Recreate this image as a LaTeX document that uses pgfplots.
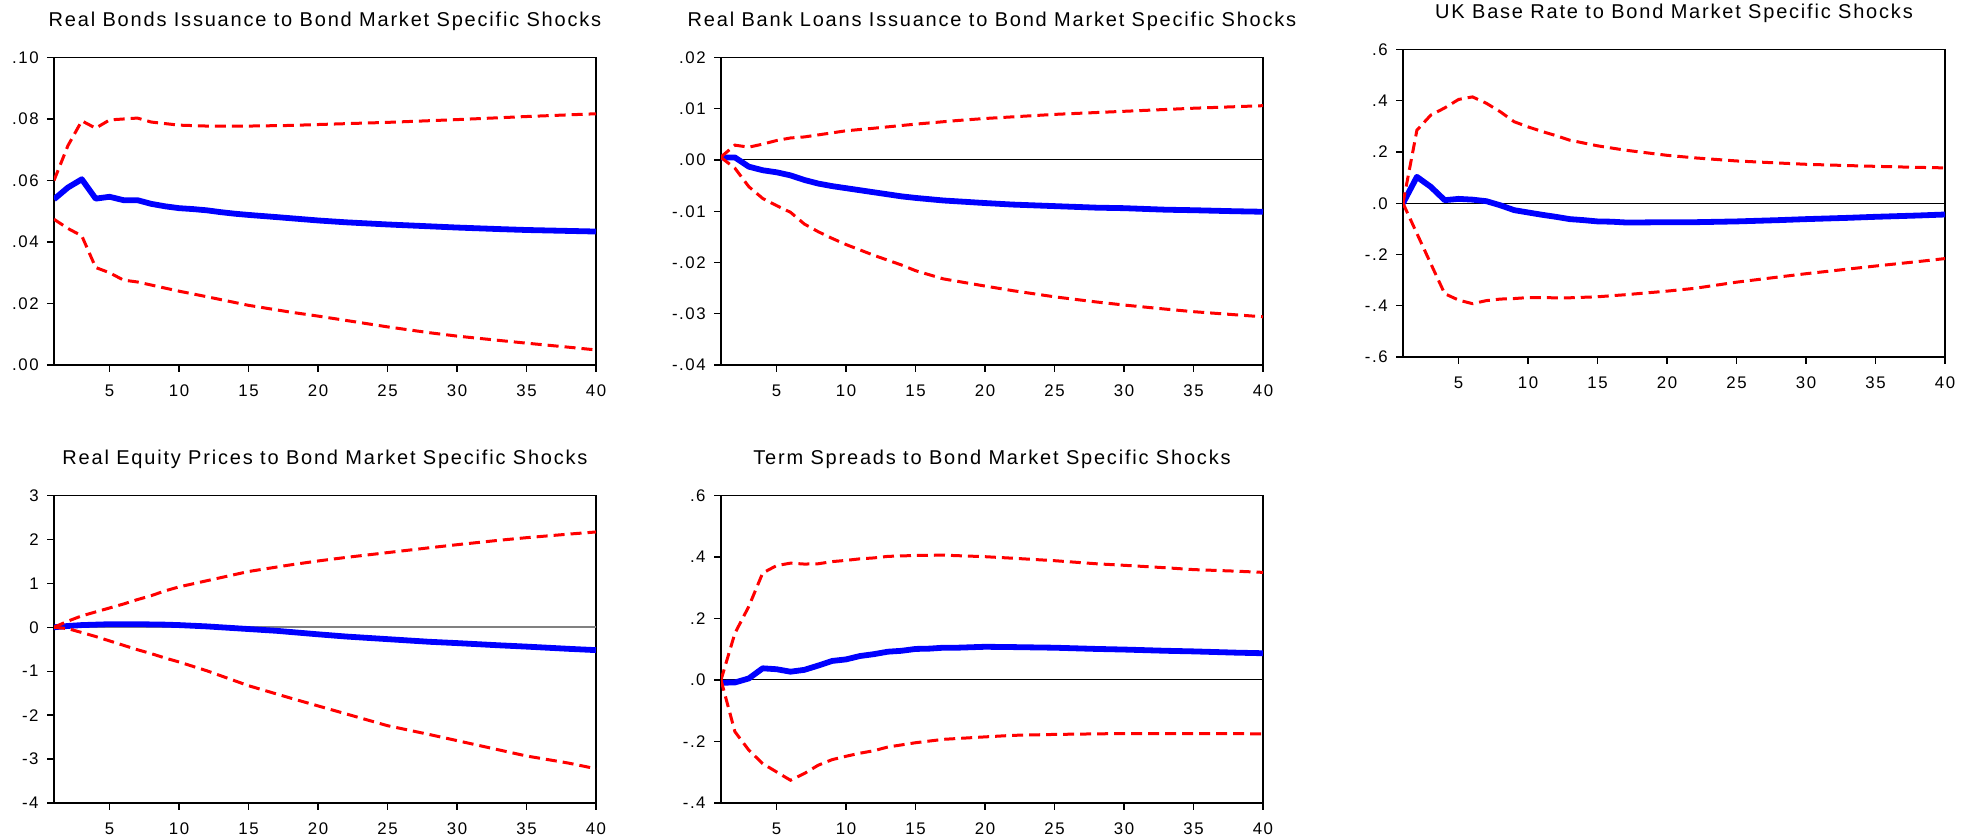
\documentclass[border=0pt]{standalone}
\usepackage{fontspec}
\setmainfont[LetterSpace=9]{Liberation Sans}
\usepackage{pgfplots}
\pgfplotsset{compat=1.18}
\definecolor{irfblue}{RGB}{0,0,255}
\definecolor{irfred}{RGB}{255,0,0}
\pgfplotsset{
  irf/.style={
    scale only axis, width=271pt, height=153.75pt,
    xmin=1, xmax=40, xtick={5,10,15,20,25,30,35,40},
    scaled ticks=false,
    axis line style={line width=0.9pt},
    tick align=outside, xtick pos=bottom, ytick pos=left,
    major tick length=3.5pt,
    every tick/.style={black, line width=0.7pt},
    /pgf/number format/assume math mode=true,
    tick label style={font=\fontsize{8.4}{9}\selectfont},
    yticklabel style={anchor=east, inner sep=0pt, xshift=-4pt},
    xticklabel style={anchor=north, inner sep=0pt, yshift=-6.25pt},
    every axis title shift=0pt,
    title style={font=\fontsize{10}{12}\selectfont, at={(0.5,1)}, anchor=base, inner sep=0pt, yshift=15.5pt},
    clip=true,
  },
  blueline/.style={irfblue, line width=2.9pt, line join=round, mark=none},
  redline/.style={irfred, line width=1.5pt, dash pattern=on 5.5pt off 3pt, mark=none},
  zeroline/.style={black, line width=0.5pt, mark=none, forget plot},
}
\begin{document}
\begin{tikzpicture}
\path[use as bounding box] (0,0) rectangle (986pt,420pt);

% Panel 1
\begin{axis}[irf, at={(27pt,237.5pt)}, anchor=south west,
  title={Real Bonds Issuance to Bond Market Specific Shocks},
  ymin=0, ymax=0.10, ytick={0,0.02,0.04,0.06,0.08,0.10},
  yticklabels={.00,.02,.04,.06,.08,.10}]
\addplot[blueline] coordinates {(1,.0539)(2,.0577)(3,.0604)(4,.0541)(5,.0547)(6,.0536)(7,.0536)(8,.0524)(9,.0516)(10,.0510)(11,.0507)(12,.0503)(13,.0497)(14,.0492)(15,.0488)(17,.0481)(20,.0470)(22,.0464)(25,.0457)(28,.0451)(30,.0447)(33,.0442)(35,.0439)(38,.0436)(40,.0434)};
\addplot[redline] coordinates {(1,.0600)(2,.0713)(3,.0794)(4,.0770)(5,.0797)(6,.0800)(7,.0803)(8,.0790)(9,.0785)(10,.0780)(12,.0777)(15,.0777)(18,.0779)(20,.0782)(25,.0789)(30,.0798)(35,.0808)(40,.0817)};
\addplot[redline] coordinates {(1,.0474)(2,.0444)(3,.0420)(4,.0317)(5,.0300)(6,.0276)(7,.0270)(8,.0260)(9,.0250)(10,.0240)(12,.0222)(15,.0194)(18,.0172)(20,.0159)(22,.0145)(25,.0124)(28,.0105)(30,.0094)(33,.0080)(35,.0071)(38,.0058)(40,.0049)};
\end{axis}

% Panel 2
\begin{axis}[irf, at={(360.5pt,237.5pt)}, anchor=south west,
  title={Real Bank Loans Issuance to Bond Market Specific Shocks},
  ymin=-0.04, ymax=0.02, ytick={-0.04,-0.03,-0.02,-0.01,0,0.01,0.02},
  yticklabels={-.04,-.03,-.02,-.01,.00,.01,.02}]
\addplot[zeroline] coordinates {(1,0)(40,0)};
\addplot[blueline] coordinates {(1,.0005)(2,.0005)(3,-.0013)(4,-.0020)(5,-.0024)(6,-.0030)(7,-.0039)(8,-.0046)(9,-.0051)(10,-.0055)(11,-.0059)(12,-.0063)(13,-.0067)(14,-.0071)(15,-.0074)(17,-.0079)(20,-.0084)(22,-.0087)(25,-.0090)(28,-.0093)(30,-.0094)(33,-.0097)(35,-.0098)(38,-.0100)(40,-.0101)};
\addplot[redline] coordinates {(1,.0006)(2,.0029)(3,.0025)(4,.0031)(5,.0038)(6,.0043)(7,.0045)(8,.0049)(9,.0053)(10,.0057)(12,.0062)(15,.0070)(18,.0077)(20,.0081)(25,.0089)(30,.0095)(35,.0101)(40,.0106)};
\addplot[redline] coordinates {(1,.0005)(2,-.0016)(3,-.0052)(4,-.0075)(5,-.0089)(6,-.0102)(7,-.0125)(8,-.0140)(9,-.0153)(10,-.0165)(12,-.0186)(14,-.0205)(15,-.0216)(17,-.0232)(20,-.0246)(22,-.0255)(25,-.0267)(28,-.0277)(30,-.0283)(33,-.0291)(35,-.0296)(38,-.0302)(40,-.0306)};
\end{axis}

% Panel 3
\begin{axis}[irf, at={(701.5pt,241.5pt)}, anchor=south west,
  title={UK Base Rate to Bond Market Specific Shocks},
  ymin=-0.6, ymax=0.6, ytick={-0.6,-0.4,-0.2,0,0.2,0.4,0.6},
  yticklabels={-.6,-.4,-.2,.0,.2,.4,.6}]
\addplot[zeroline] coordinates {(1,0)(40,0)};
\addplot[blueline] coordinates {(1,0)(2,.103)(3,.064)(4,.012)(5,.017)(6,.014)(7,.008)(8,-.008)(9,-.027)(10,-.036)(11,-.045)(12,-.053)(13,-.062)(14,-.066)(15,-.071)(16,-.072)(17,-.075)(18,-.075)(20,-.074)(22,-.074)(25,-.071)(28,-.066)(30,-.062)(33,-.057)(35,-.053)(38,-.048)(40,-.044)};
\addplot[redline] coordinates {(1,0)(2,.285)(3,.344)(4,.372)(5,.405)(6,.415)(7,.390)(8,.357)(9,.318)(10,.298)(11,.280)(12,.264)(13,.246)(14,.235)(15,.224)(17,.207)(20,.187)(22,.177)(25,.165)(28,.157)(30,.152)(33,.147)(35,.144)(38,.140)(40,.138)};
\addplot[redline] coordinates {(1,0)(2,-.118)(3,-.236)(4,-.353)(5,-.378)(6,-.392)(7,-.380)(8,-.374)(9,-.372)(10,-.368)(12,-.369)(13,-.369)(15,-.365)(17,-.357)(20,-.343)(22,-.332)(25,-.308)(28,-.288)(30,-.275)(33,-.257)(35,-.245)(38,-.228)(40,-.216)};
\end{axis}

% Panel 4
\begin{axis}[irf, at={(27pt,18.5pt)}, anchor=south west,
  title={Real Equity Prices to Bond Market Specific Shocks},
  ymin=-4, ymax=3, ytick={-4,-3,-2,-1,0,1,2,3},
  yticklabels={-4,-3,-2,-1,0,1,2,3}]
\addplot[gray, line width=1.1pt, forget plot] coordinates {(1,0)(40,0)};
\addplot[blueline] coordinates {(1,0)(2,.03)(3,.05)(4,.06)(5,.07)(6,.07)(7,.07)(8,.065)(9,.06)(10,.05)(11,.035)(12,.02)(13,.0)(14,-.02)(15,-.04)(17,-.08)(20,-.16)(22,-.21)(25,-.27)(28,-.33)(30,-.36)(33,-.41)(35,-.44)(38,-.49)(40,-.52)};
\addplot[redline] coordinates {(1,0)(2,.14)(3,.26)(4,.35)(5,.44)(6,.53)(7,.63)(8,.72)(9,.83)(10,.92)(12,1.06)(15,1.27)(18,1.42)(20,1.51)(22,1.59)(25,1.70)(28,1.81)(30,1.88)(33,1.98)(35,2.04)(38,2.12)(40,2.17)};
\addplot[redline] coordinates {(1,0)(2,-.03)(3,-.12)(4,-.21)(5,-.31)(6,-.41)(7,-.51)(8,-.60)(9,-.70)(10,-.79)(12,-.99)(15,-1.33)(18,-1.61)(20,-1.79)(22,-1.97)(25,-2.24)(28,-2.44)(30,-2.58)(33,-2.79)(35,-2.93)(38,-3.09)(40,-3.22)};
\end{axis}

% Panel 5
\begin{axis}[irf, at={(360.5pt,18.5pt)}, anchor=south west,
  title={Term Spreads to Bond Market Specific Shocks},
  ymin=-0.4, ymax=0.6, ytick={-0.4,-0.2,0,0.2,0.4,0.6},
  yticklabels={-.4,-.2,.0,.2,.4,.6}]
\addplot[zeroline] coordinates {(1,0)(40,0)};
\addplot[blueline] coordinates {(1,-.009)(2,-.008)(3,.005)(4,.038)(5,.035)(6,.027)(7,.033)(8,.047)(9,.062)(10,.067)(11,.078)(12,.084)(13,.092)(14,.095)(15,.101)(16,.102)(17,.105)(18,.105)(20,.108)(22,.107)(25,.105)(28,.101)(30,.099)(33,.095)(35,.093)(38,.089)(40,.087)};
\addplot[redline] coordinates {(1,0)(2,.152)(3,.239)(4,.348)(5,.372)(6,.380)(7,.377)(8,.378)(9,.385)(10,.389)(11,.394)(12,.397)(13,.402)(15,.405)(17,.406)(20,.401)(22,.396)(25,.388)(28,.378)(30,.373)(33,.365)(35,.359)(38,.354)(40,.350)};
\addplot[redline] coordinates {(1,0)(2,-.168)(3,-.228)(4,-.272)(5,-.299)(6,-.326)(7,-.304)(8,-.277)(9,-.259)(10,-.248)(11,-.238)(12,-.230)(13,-.218)(15,-.204)(17,-.193)(20,-.185)(22,-.180)(25,-.177)(30,-.174)(35,-.174)(40,-.175)};
\end{axis}
\end{tikzpicture}
\end{document}
